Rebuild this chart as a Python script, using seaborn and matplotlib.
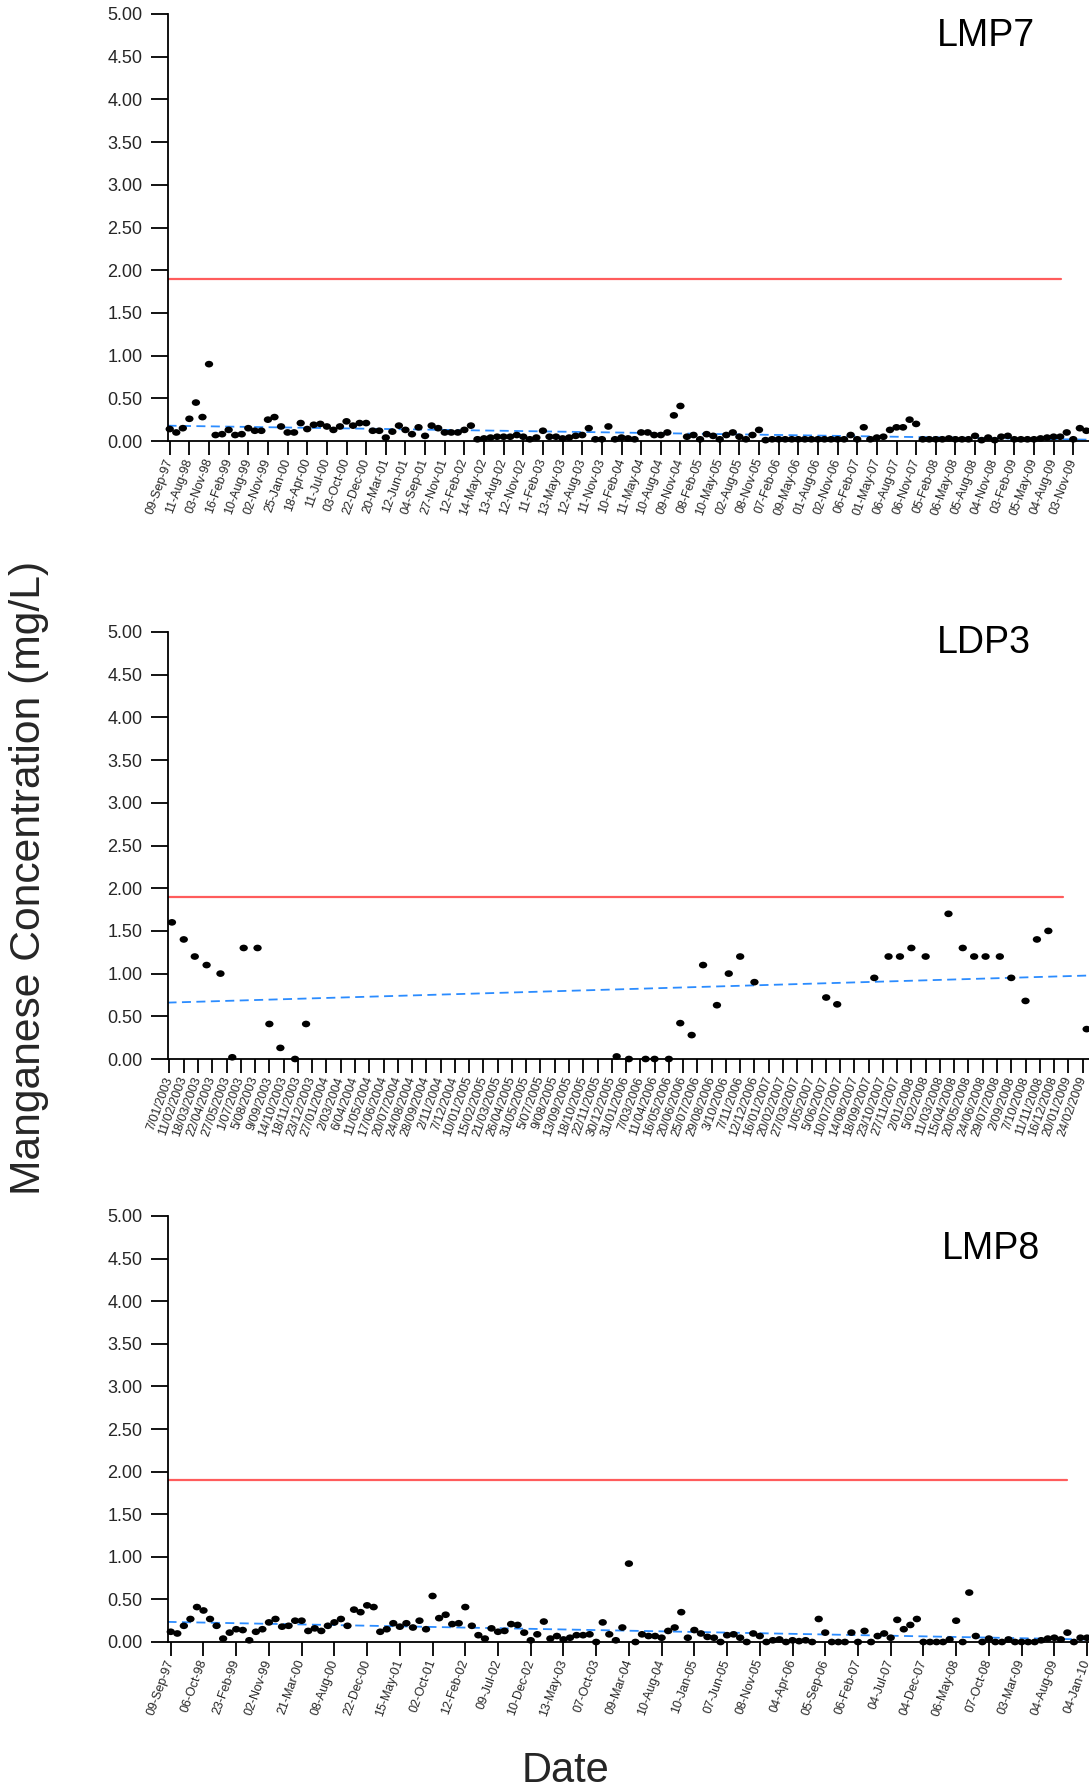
import numpy as np
import pandas as pd
import matplotlib
matplotlib.use("Agg")
import matplotlib.pyplot as plt
from matplotlib.path import Path
import seaborn as sns

# ---------------- data ----------------
lmp7_values = [
    0.14, 0.10, 0.15, 0.26, 0.45, 0.28, 0.90, 0.07, 0.08, 0.13,
    0.07, 0.08, 0.15, 0.12, 0.12, 0.25, 0.28, 0.17, 0.10, 0.10,
    0.21, 0.14, 0.19, 0.20, 0.17, 0.13, 0.17, 0.23, 0.18, 0.21,
    0.21, 0.12, 0.12, 0.04, 0.11, 0.18, 0.13, 0.08, 0.16, 0.06,
    0.18, 0.15, 0.10, 0.10, 0.10, 0.13, 0.18, 0.02, 0.03, 0.04,
    0.05, 0.05, 0.05, 0.07, 0.05, 0.02, 0.04, 0.12, 0.05, 0.05,
    0.03, 0.04, 0.06, 0.07, 0.15, 0.02, 0.02, 0.17, 0.02, 0.04,
    0.03, 0.02, 0.10, 0.10, 0.07, 0.07, 0.10, 0.30, 0.41, 0.05,
    0.07, 0.02, 0.08, 0.06, 0.02, 0.07, 0.10, 0.05, 0.02, 0.07,
    0.13, 0.01, 0.02, 0.02, 0.02, 0.02, 0.02, 0.02, 0.02, 0.02,
    0.02, 0.02, 0.02, 0.02, 0.07, 0.02, 0.16, 0.02, 0.04, 0.05,
    0.13, 0.16, 0.16, 0.25, 0.20, 0.02, 0.02, 0.02, 0.02, 0.03,
    0.02, 0.02, 0.02, 0.06, 0.01, 0.04, 0.01, 0.05, 0.06, 0.02,
    0.02, 0.02, 0.02, 0.03, 0.04, 0.05, 0.05, 0.10, 0.02, 0.15, 0.12,
]
lmp7_tick_labels = [
    "09-Sep-97", "11-Aug-98", "03-Nov-98", "16-Feb-99", "10-Aug-99", "02-Nov-99",
    "25-Jan-00", "18-Apr-00", "11-Jul-00", "03-Oct-00", "22-Dec-00", "20-Mar-01",
    "12-Jun-01", "04-Sep-01", "27-Nov-01", "12-Feb-02", "14-May-02", "13-Aug-02",
    "12-Nov-02", "11-Feb-03", "13-May-03", "12-Aug-03", "11-Nov-03", "10-Feb-04",
    "11-May-04", "10-Aug-04", "09-Nov-04", "08-Feb-05", "10-May-05", "02-Aug-05",
    "08-Nov-05", "07-Feb-06", "09-May-06", "01-Aug-06", "02-Nov-06", "06-Feb-07",
    "01-May-07", "06-Aug-07", "06-Nov-07", "05-Feb-08", "06-May-08", "05-Aug-08",
    "04-Nov-08", "03-Feb-09", "05-May-09", "04-Aug-09", "03-Nov-09",
]

ldp3_dates = [
    "2003-01-13", "2003-02-11", "2003-03-10", "2003-04-08", "2003-05-12", "2003-06-10",
    "2003-07-08", "2003-08-11", "2003-09-09", "2003-10-06", "2003-11-11", "2003-12-08",
    "2006-01-08", "2006-02-07", "2006-03-20", "2006-04-11", "2006-05-16", "2006-06-13",
    "2006-07-11", "2006-08-08", "2006-09-11", "2006-10-10", "2006-11-07", "2006-12-12",
    "2007-06-06", "2007-07-03", "2007-10-02", "2007-11-06", "2007-12-04", "2008-01-01",
    "2008-02-05", "2008-04-01", "2008-05-06", "2008-06-03", "2008-07-01", "2008-08-05",
    "2008-09-02", "2008-10-07", "2008-11-04", "2008-12-02", "2009-03-06",
]
ldp3_values = [
    1.60, 1.40, 1.20, 1.10, 1.00, 0.02, 1.30, 1.30, 0.41, 0.13, 0.00, 0.41,
    0.03, 0.00, 0.00, 0.00, 0.00, 0.42, 0.28, 1.10, 0.63, 1.00, 1.20, 0.90,
    0.72, 0.64, 0.95, 1.20, 1.20, 1.30, 1.20, 1.70, 1.30, 1.20, 1.20, 1.20,
    0.95, 0.68, 1.40, 1.50, 0.35,
]
ldp3_tick_labels = [
    "7/01/2003", "11/02/2003", "18/03/2003", "22/04/2003", "27/05/2003", "1/07/2003",
    "5/08/2003", "9/09/2003", "14/10/2003", "18/11/2003", "23/12/2003", "27/01/2004",
    "2/03/2004", "6/04/2004", "11/05/2004", "17/06/2004", "20/07/2004", "24/08/2004",
    "28/09/2004", "2/11/2004", "7/12/2004", "10/01/2005", "15/02/2005", "21/03/2005",
    "26/04/2005", "31/05/2005", "5/07/2005", "9/08/2005", "13/09/2005", "18/10/2005",
    "22/11/2005", "30/12/2005", "31/01/2006", "7/03/2006", "11/04/2006", "16/05/2006",
    "20/06/2006", "25/07/2006", "29/08/2006", "3/10/2006", "7/11/2006", "12/12/2006",
    "16/01/2007", "20/02/2007", "27/03/2007", "1/05/2007", "5/06/2007", "10/07/2007",
    "14/08/2007", "18/09/2007", "23/10/2007", "27/11/2007", "2/01/2008", "5/02/2008",
    "11/03/2008", "15/04/2008", "20/05/2008", "24/06/2008", "29/07/2008", "2/09/2008",
    "7/10/2008", "11/11/2008", "16/12/2008", "20/01/2009", "24/02/2009",
]
ldp3_axis_start = "2003-01-07"
ldp3_tick_step_days = 35

lmp8_values = [
    0.12, 0.10, 0.19, 0.27, 0.41, 0.37, 0.27, 0.19, 0.04, 0.11,
    0.15, 0.14, 0.02, 0.12, 0.15, 0.23, 0.27, 0.18, 0.19, 0.25,
    0.25, 0.13, 0.16, 0.13, 0.19, 0.23, 0.27, 0.19, 0.38, 0.35,
    0.43, 0.41, 0.12, 0.15, 0.22, 0.18, 0.22, 0.17, 0.25, 0.15,
    0.54, 0.28, 0.32, 0.21, 0.22, 0.41, 0.19, 0.08, 0.04, 0.16,
    0.12, 0.13, 0.21, 0.20, 0.11, 0.02, 0.09, 0.24, 0.04, 0.07,
    0.03, 0.05, 0.08, 0.08, 0.09, 0.00, 0.23, 0.09, 0.02, 0.17,
    0.92, 0.00, 0.09, 0.07, 0.07, 0.05, 0.13, 0.17, 0.35, 0.05,
    0.14, 0.10, 0.06, 0.05, 0.00, 0.08, 0.09, 0.05, 0.00, 0.10,
    0.07, 0.00, 0.02, 0.03, 0.00, 0.02, 0.01, 0.02, 0.00, 0.27,
    0.11, 0.00, 0.00, 0.00, 0.11, 0.00, 0.13, 0.00, 0.07, 0.10,
    0.05, 0.26, 0.15, 0.20, 0.27, 0.00, 0.00, 0.00, 0.00, 0.03,
    0.25, 0.00, 0.58, 0.07, 0.00, 0.04, 0.00, 0.00, 0.03, 0.00,
    0.00, 0.00, 0.00, 0.02, 0.04, 0.05, 0.03, 0.11, 0.00, 0.05, 0.05,
]
lmp8_tick_labels = [
    "09-Sep-97", "06-Oct-98", "23-Feb-99", "02-Nov-99", "21-Mar-00", "08-Aug-00",
    "22-Dec-00", "15-May-01", "02-Oct-01", "12-Feb-02", "09-Jul-02", "10-Dec-02",
    "13-May-03", "07-Oct-03", "09-Mar-04", "10-Aug-04", "10-Jan-05", "07-Jun-05",
    "08-Nov-05", "04-Apr-06", "05-Sep-06", "06-Feb-07", "04-Jul-07", "04-Dec-07",
    "06-May-08", "07-Oct-08", "03-Mar-09", "04-Aug-09", "04-Jan-10",
]

panel_names = ["LMP7", "LDP3", "LMP8"]
guideline = 1.9
y_ticks = np.arange(0, 5.01, 0.5)

# ---------------- style ----------------
sns.set_theme(style="white")
plt.rcParams["font.family"] = ["Liberation Sans", "DejaVu Sans"]

fig = plt.figure(figsize=(10.89, 17.89), dpi=100)

W, H = 1089.0, 1789.0
left_px = 167.5
axes_px = [(14, 441), (632, 1059), (1216, 1642)]   # top, bottom (pixels)
red_end = [0.9696, 0.972, 0.976]
title_pos = [(0.888, 0.925), (0.886, 0.950), (0.894, 0.899)]

dot_path = Path(Path.unit_circle().vertices * np.array([1.0, 0.8]),
                Path.unit_circle().codes)

trend_color = "#2b8cff"
red_color = "#ff5c5c"


def make_axes(top, bottom):
    return fig.add_axes([left_px / W, 1 - bottom / H,
                         1 - left_px / W, (bottom - top) / H])


def style_axes(ax):
    sns.despine(ax=ax)
    for s in ("left", "bottom"):
        ax.spines[s].set_color("black")
        ax.spines[s].set_linewidth(1.3)
    ax.set_ylim(0, 5)
    ax.set_yticks(y_ticks)
    ax.set_yticklabels([f"{v:.2f}" for v in y_ticks])
    ax.tick_params(axis="y", direction="out", length=12, width=1.3,
                   color="black", labelsize=13, pad=6, left=True)
    ax.tick_params(axis="x", direction="out", length=10, width=1.3,
                   color="black", labelsize=9, pad=3, bottom=True)
    ax.set_xlabel("")
    ax.set_ylabel("")
    ax.grid(False)


def draw_panel(ax, x, y, xlim, ticks, labels, idx):
    ax.set_xlim(*xlim)
    ax.axhline(guideline, xmin=0, xmax=red_end[idx], color=red_color, lw=1.6, zorder=1)
    sns.regplot(x=np.asarray(x, float), y=np.asarray(y, float), ax=ax, scatter=False,
                ci=None, truncate=False, color=trend_color,
                line_kws=dict(ls=(0, (5, 3)), lw=1.3, zorder=2))
    sns.scatterplot(x=x, y=y, ax=ax, color="black", marker=dot_path, s=36,
                    edgecolor="none", linewidth=0, zorder=3, clip_on=False,
                    legend=False)
    ax.set_xlim(*xlim)
    style_axes(ax)
    ax.set_xticks(ticks)
    ax.set_xticklabels(labels, rotation=70, ha="right", va="center",
                       rotation_mode="anchor")
    tx, ty = title_pos[idx]
    ax.text(tx, ty, panel_names[idx], transform=ax.transAxes, ha="center",
            va="baseline", fontsize=27, color="black")


# Panel 1: LMP7 (category positions)
ax1 = make_axes(*axes_px[0])
x1 = np.arange(len(lmp7_values))
draw_panel(ax1, x1, lmp7_values, (-0.34, 140.4),
           np.arange(0, 3 * len(lmp7_tick_labels), 3), lmp7_tick_labels, 0)

# Panel 2: LDP3 (date positions, days since axis start)
ax2 = make_axes(*axes_px[1])
x2 = (pd.to_datetime(ldp3_dates) - pd.Timestamp(ldp3_axis_start)).days.values
t2 = np.arange(len(ldp3_tick_labels)) * ldp3_tick_step_days
draw_panel(ax2, x2, ldp3_values, (-0.14 * ldp3_tick_step_days, 64.45 * ldp3_tick_step_days),
           t2, ldp3_tick_labels, 1)

# Panel 3: LMP8 (category positions)
ax3 = make_axes(*axes_px[2])
x3 = np.arange(len(lmp8_values))
draw_panel(ax3, x3, lmp8_values, (-0.5, 140.3),
           np.arange(0, 5 * len(lmp8_tick_labels), 5), lmp8_tick_labels, 2)

fig.text(0.027, 0.509, "Manganese Concentration (mg/L)", rotation=90,
         ha="center", va="center", fontsize=30.7)
fig.text(0.519, 0.004, "Date", ha="center", va="baseline", fontsize=30)

fig.savefig("out.png", dpi=100)
